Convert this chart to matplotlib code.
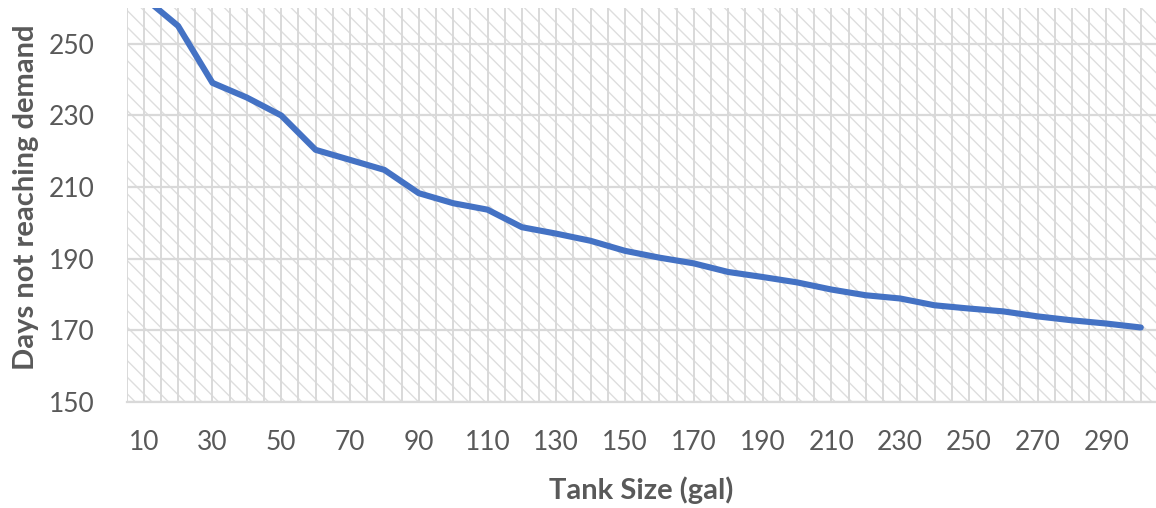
import matplotlib
matplotlib.use("Agg")
import matplotlib.pyplot as plt
from matplotlib.patches import Rectangle
import numpy as np

# Tank sizes (gal) and days per year the tank fails to meet demand
tank_size = [10, 20, 30, 40, 50, 60, 70, 80, 90, 100,
             110, 120, 130, 140, 150, 160, 170, 180, 190, 200,
             210, 220, 230, 240, 250, 260, 270, 280, 290, 300]
days_short = [263.0, 255.0, 239.1, 235.0, 230.0, 220.4, 217.6, 214.8, 208.3, 205.5,
              203.7, 198.8, 197.0, 195.0, 192.2, 190.3, 188.7, 186.3, 184.9, 183.4,
              181.4, 179.8, 178.9, 177.0, 176.1, 175.3, 173.9, 172.8, 171.9, 170.8]
x_tick_labels = [str(v) for v in tank_size[::2]]
y_ticks = [150, 170, 190, 210, 230, 250]

text_color = "#595959"
grid_color = "#d9d9d9"
line_color = "#4472C4"

plt.rcParams["font.family"] = ["Lato", "DejaVu Sans"]
plt.rcParams["hatch.linewidth"] = 1.0
plt.rcParams["hatch.color"] = "#dedede"

W, H = 1156, 508
fig = plt.figure(figsize=(W / 100, H / 100), dpi=100)
ax = fig.add_axes([126.5 / W, 1 - 402 / H, (1158 - 126.5) / W, (402 - 8) / H])

ax.set_xlim(5, 305)
ax.set_ylim(150, 260)

# patterned plot-area fill
ax.add_patch(Rectangle((0, 0), 1, 1, transform=ax.transAxes, facecolor="white",
                       edgecolor="#dedede", hatch="\\\\", linewidth=0, zorder=0))

# gridlines
for xv in np.arange(5, 306, 5):
    ax.axvline(xv, color=grid_color, linewidth=1.4, zorder=1)
for yv in y_ticks:
    ax.axhline(yv, color=grid_color, linewidth=1.6, zorder=1)

ax.plot(tank_size, days_short, color=line_color, linewidth=4.4,
        solid_capstyle="round", solid_joinstyle="round", zorder=3, clip_on=True)

for s in ["top", "right", "left"]:
    ax.spines[s].set_visible(False)
ax.spines["bottom"].set_color(grid_color)
ax.spines["bottom"].set_linewidth(1.6)

ax.set_xticks(tank_size[::2])
ax.set_xticklabels(x_tick_labels)
ax.set_yticks(y_ticks)
ax.tick_params(axis="both", length=0, labelsize=19, labelcolor=text_color)
ax.tick_params(axis="x", pad=20)
ax.tick_params(axis="y", pad=23)

fig.text(641 / W, 1 - 490 / H, "Tank Size (gal)", fontsize=21, fontweight="bold",
         color=text_color, ha="center", va="center")
fig.text(26.5 / W, 1 - 197 / H, "Days not reaching demand", fontsize=21,
         fontweight="bold", color=text_color, ha="center", va="center",
         rotation=90)

fig.savefig("out.png", dpi=100, facecolor="white")
